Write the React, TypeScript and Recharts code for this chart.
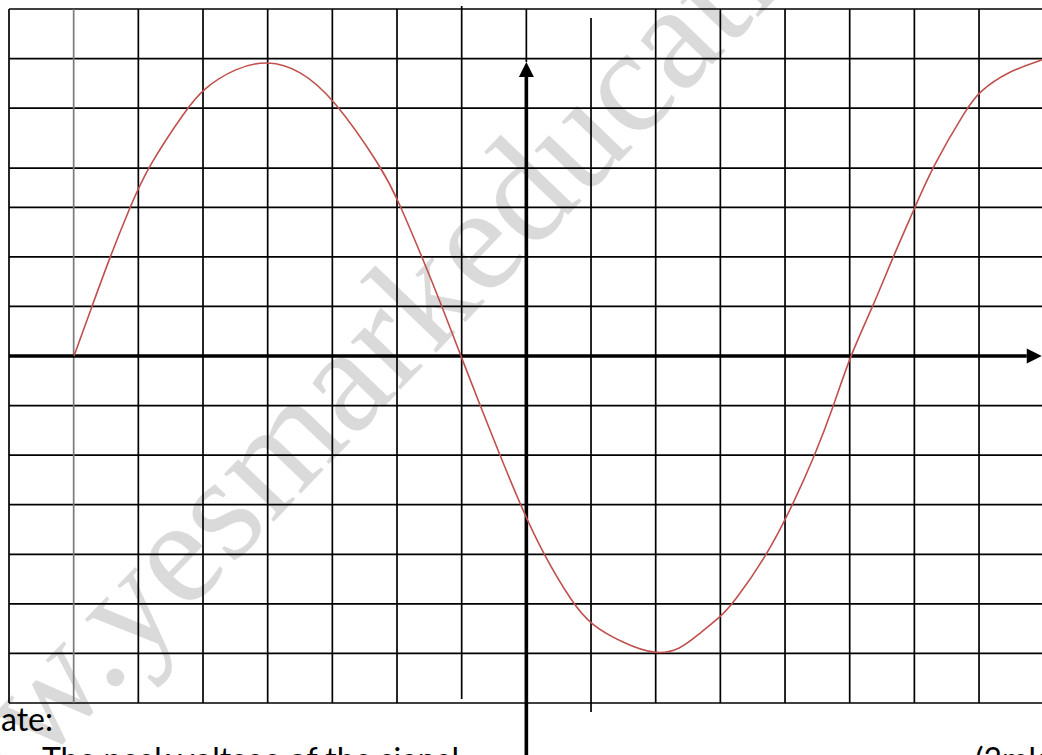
import { LineChart, Line, XAxis, YAxis, ReferenceLine } from "recharts";

// signal trace: time in grid divisions, voltage in grid divisions
const timeDivs = [
  1.005, 1.283, 1.562, 1.871, 2.134, 2.752, 3.0, 3.495, 4.005, 4.5, 5.01,
  5.768, 6.0, 6.386, 6.696, 6.989, 7.283, 7.592, 7.902, 8.257, 8.721, 9.0,
  9.494, 9.989, 10.376, 10.685, 10.994, 11.195, 11.737, 12.123, 12.463,
  12.757, 13.005, 13.36, 13.67, 14.01, 14.27, 14.81, 15.0, 15.43, 15.97,
];
const signalVolts = [
  0, 1, 2, 3, 3.79, 5.0, 5.39, 5.81, 5.97, 5.77, 5.22, 3.79, 3.19, 2.0, 1.0,
  0, -0.99, -2.0, -2.99, -3.99, -5.0, -5.43, -5.79, -6.03, -5.93, -5.59,
  -5.27, -5.0, -3.99, -2.99, -2.0, -0.99, 0, 1.0, 2.0, 3.0, 3.79, 5.0, 5.33,
  5.73, 5.97,
];

// grid divisions
const gridCols = [0, 1, 2, 3, 4, 5, 6, 7, 8, 9, 10, 11, 12, 13, 14, 15];
const gridRows = [-7, -6, -5, -4, -3, -2, -1, 1, 2, 3, 3.79, 5, 6, 7];

const data = timeDivs.map((t, i) => ({ t, v: signalVolts[i] }));

function Arrow(props: any) {
  const { x1, y1, x2, y2 } = props;
  const dx = x2 - x1;
  const dy = y2 - y1;
  const len = Math.hypot(dx, dy) || 1;
  const ux = dx / len;
  const uy = dy / len;
  const head = 15;
  const half = 7.5;
  const bx = x2 - ux * head;
  const by = y2 - uy * head;
  return (
    <g>
      <line x1={x1} y1={y1} x2={bx} y2={by} stroke="#000" strokeWidth={3.6} />
      <polygon
        points={`${x2},${y2} ${bx - uy * half},${by + ux * half} ${bx + uy * half},${by - ux * half}`}
        fill="#000"
      />
    </g>
  );
}

// a few of the hand-drawn column lines don't meet the borders
const colExtent: Record<number, [number, number]> = {
  7: [-6.92, 7.06],
  8: [5.93, 7],
  9: [-7.18, 6.82],
};

export default function App() {
  return (
    <div
      style={{
        position: "fixed",
        left: 0,
        top: 0,
        width: 1042,
        height: 755,
        overflow: "hidden",
        background: "#fff",
      }}
    >
      <svg
        width={1042}
        height={755}
        style={{ position: "absolute", left: 0, top: 0 }}
      >
        <text
          x={-111}
          y={923}
          transform="rotate(-46.2 -111 923)"
          fontFamily="'Liberation Serif', serif"
          fontSize={150}
          fill="#dadada"
        >
          www.yesmarkeducation.com
        </text>
        <g fontFamily="Lato, 'Open Sans', sans-serif" fontSize={32} fill="#000">
          <text x={1} y={731}>
            ate:
          </text>
          <text x={42} y={771}>
            The peak voltage of the signal
          </text>
          <text x={975} y={771}>
            (3mks)
          </text>
        </g>
      </svg>
      <div style={{ position: "absolute", left: 0, top: 0 }}>
        <LineChart
          width={1050}
          height={755}
          data={data}
          margin={{ top: 9, left: 9, right: 6.3, bottom: 52 }}
        >
          <XAxis type="number" dataKey="t" domain={[0, 16]} hide />
          <YAxis type="number" domain={[-7, 7]} hide />
          {gridRows.map((r) => (
            <ReferenceLine
              key={`r${r}`}
              y={r}
              stroke="#000"
              strokeWidth={1.7}
              ifOverflow="visible"
            />
          ))}
          {gridCols.map((c) =>
            colExtent[c] ? (
              <ReferenceLine
                key={`c${c}`}
                segment={[
                  { x: c, y: colExtent[c][0] },
                  { x: c, y: colExtent[c][1] },
                ]}
                stroke="#000"
                strokeWidth={1.7}
                ifOverflow="visible"
              />
            ) : (
              <ReferenceLine
                key={`c${c}`}
                x={c}
                stroke={c === 1 ? "#7a7a7a" : "#000"}
                strokeWidth={1.7}
                ifOverflow="visible"
              />
            )
          )}
          <ReferenceLine
            segment={[
              { x: 0, y: 0 },
              { x: 15.97, y: 0 },
            ]}
            shape={Arrow}
            ifOverflow="visible"
          />
          <ReferenceLine
            segment={[
              { x: 8, y: -8.3 },
              { x: 8, y: 5.93 },
            ]}
            shape={Arrow}
            ifOverflow="visible"
          />
          <Line
            type="basis"
            dataKey="v"
            stroke="#c0504d"
            strokeWidth={1.6}
            dot={false}
            isAnimationActive={false}
          />
        </LineChart>
      </div>
    </div>
  );
}
